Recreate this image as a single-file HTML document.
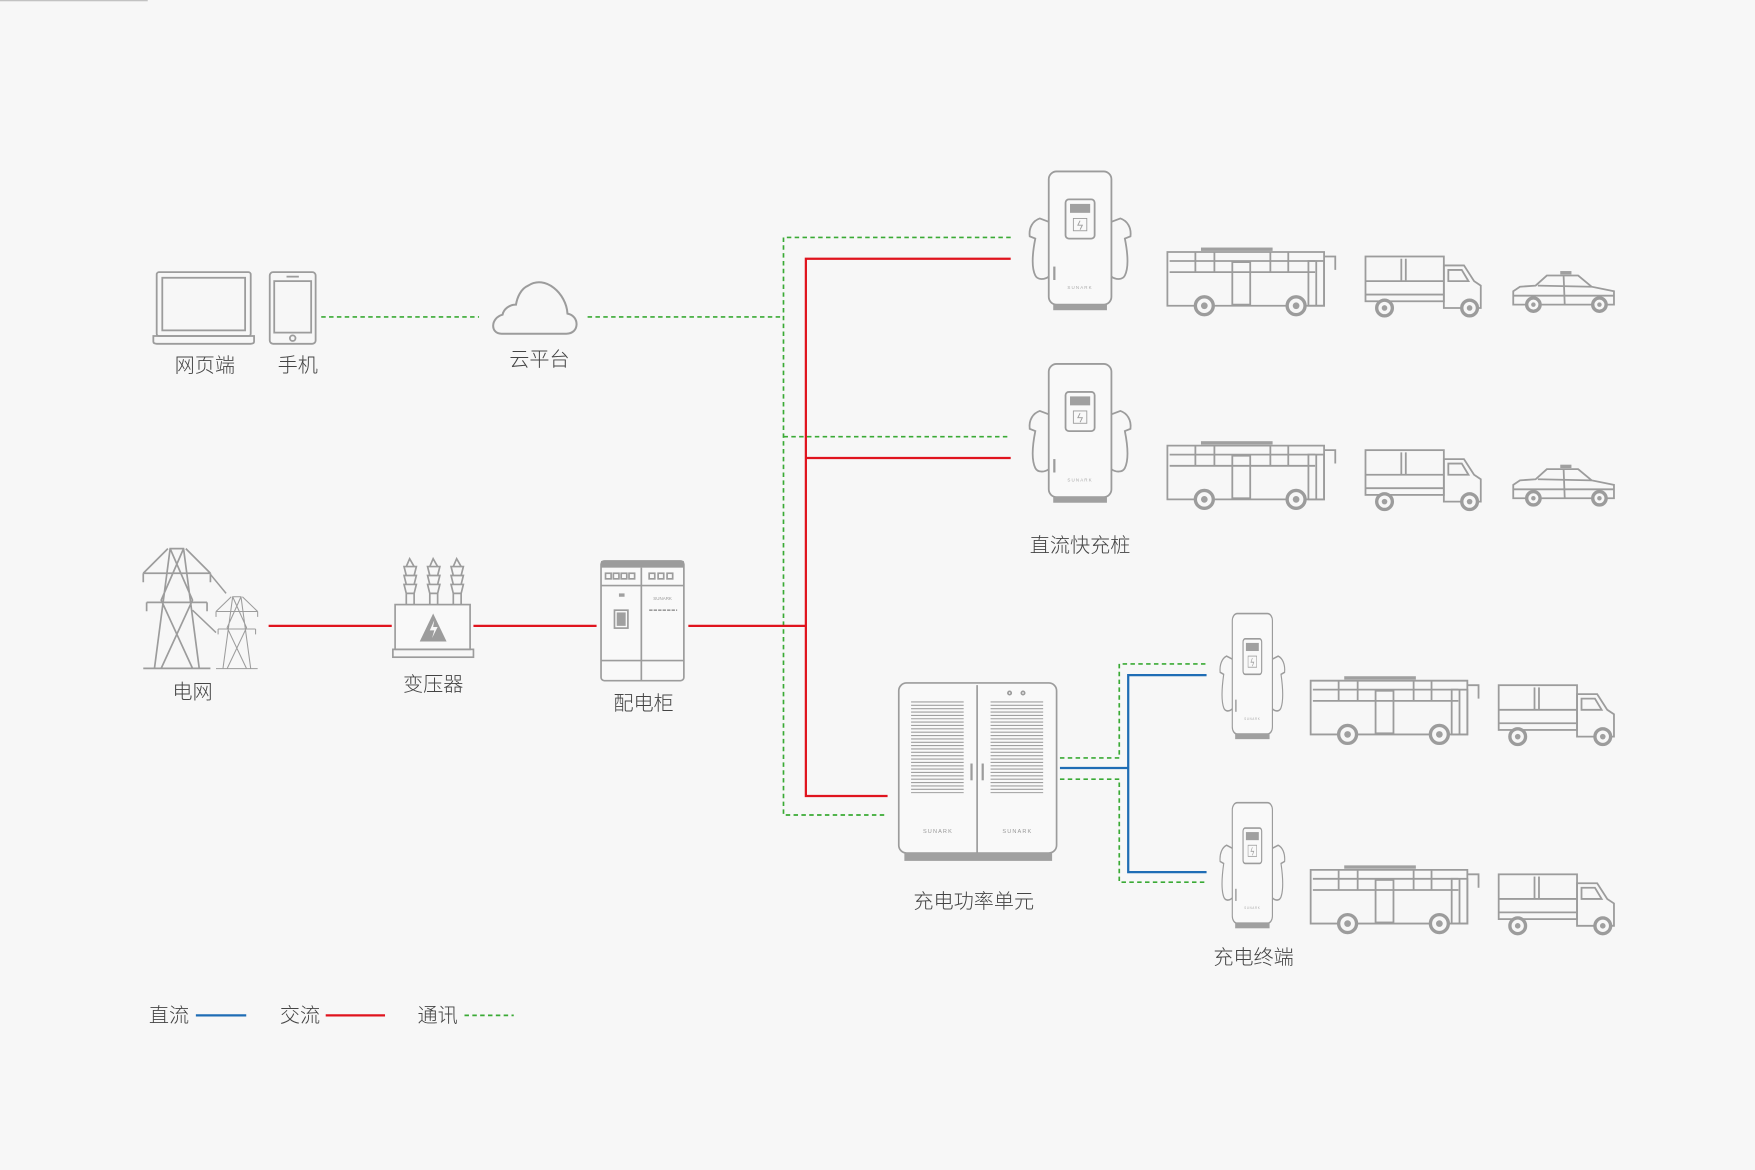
<!DOCTYPE html>
<html><head><meta charset="utf-8"><style>
html,body{margin:0;padding:0;background:#f7f7f7;}
svg{display:block}
text{font-family:"Liberation Sans","Noto Sans CJK SC",sans-serif;fill:#444;}
</style></head><body>
<svg width="1755" height="1170" viewBox="0 0 1568 1045" xmlns="http://www.w3.org/2000/svg">
<rect width="1568" height="1045" fill="#f7f7f7"/>
<line x1="0" y1="0.5" x2="132" y2="0.5" stroke="#bbb" stroke-width="1"/>
<defs>
<g id="charger" fill="none" stroke="#9c9c9c" stroke-width="1.6">
  <rect x="0" y="0" width="56" height="119" rx="7" fill="#f9f9f9"/>
  <rect x="15" y="25" width="26" height="35" rx="3"/>
  <rect x="19" y="29" width="18" height="8" fill="#a0a0a0" stroke="none"/>
  <rect x="22" y="42" width="12" height="11" stroke-width="0.8"/>
  <path d="M28,44 L26,48 H30 L28,52" stroke-width="0.8"/>
  <line x1="5" y1="85" x2="5" y2="97" stroke-width="2"/>
  <path d="M0,45 L-8,42 C-14,44 -18,50 -17,58 L-12,60 C-14,70 -16,85 -12,93 C-10,97 -4,97 0,94"/>
  <path d="M56,45 L64,42 C70,44 74,50 73,58 L68,60 C70,70 72,85 68,93 C66,97 60,97 56,94"/>
  <rect x="4" y="119" width="48" height="5" fill="#a0a0a0" stroke="none"/>
  <text x="28" y="105" font-size="4" text-anchor="middle" letter-spacing="1" stroke="none" style="fill:#aaa;font-weight:100">SUNARK</text>
</g>
<g id="bus" fill="none" stroke="#9c9c9c" stroke-width="1.6">
  <rect x="30" y="0" width="64" height="3" fill="#a0a0a0" stroke="none"/>
  <path d="M2,4 H140 V52 H0 V4 Z"/>
  <line x1="2" y1="12" x2="132" y2="12"/><line x1="2" y1="22" x2="132" y2="22"/>
  <line x1="25" y1="4" x2="25" y2="22"/><line x1="42" y1="4" x2="42" y2="22"/>
  <line x1="92" y1="4" x2="92" y2="22"/><line x1="108" y1="4" x2="108" y2="22"/>
  <rect x="58" y="13" width="16" height="38"/>
  <rect x="126" y="12" width="14" height="40"/><line x1="133" y1="12" x2="133" y2="52"/>
  <path d="M140,8 H150 V20"/>
  <circle cx="33" cy="52" r="8" fill="#f7f7f7" stroke-width="3"/><circle cx="33" cy="52" r="3" fill="#a0a0a0" stroke="none"/>
  <circle cx="115" cy="52" r="8" fill="#f7f7f7" stroke-width="3"/><circle cx="115" cy="52" r="3" fill="#a0a0a0" stroke="none"/>
</g>
<g id="truck" fill="none" stroke="#9c9c9c" stroke-width="1.6">
  <rect x="0" y="0" width="70" height="40"/>
  <line x1="0" y1="22" x2="70" y2="22"/><line x1="0" y1="34" x2="70" y2="34"/>
  <line x1="32" y1="2" x2="32" y2="22"/><line x1="36" y1="2" x2="36" y2="22"/>
  <path d="M70,8 H88 L97,22 L103,26 V46 H70 Z"/>
  <path d="M74,12 H86 L92,22 H74 Z"/>
  <circle cx="17" cy="46" r="7" fill="#f7f7f7" stroke-width="3"/><circle cx="17" cy="46" r="2.5" fill="#a0a0a0" stroke="none"/>
  <circle cx="93" cy="46" r="7" fill="#f7f7f7" stroke-width="3"/><circle cx="93" cy="46" r="2.5" fill="#a0a0a0" stroke="none"/>
</g>
<g id="car" fill="none" stroke="#9c9c9c" stroke-width="1.6">
  <rect x="44" y="0" width="10" height="3" fill="#a0a0a0" stroke="none"/>
  <path d="M2,18 L8,14 L22,13 L32,4 H60 L72,14 L92,18 V30 H2 Z"/>
  <line x1="24" y1="13" x2="72" y2="14"/><line x1="47" y1="4" x2="48" y2="30"/>
  <line x1="2" y1="22" x2="92" y2="22"/>
  <circle cx="20" cy="30" r="6" fill="#f7f7f7" stroke-width="3"/><circle cx="20" cy="30" r="2" fill="#a0a0a0" stroke="none"/>
  <circle cx="79" cy="30" r="6" fill="#f7f7f7" stroke-width="3"/><circle cx="79" cy="30" r="2" fill="#a0a0a0" stroke="none"/>
</g>
<g id="tower" fill="none" stroke="#9c9c9c" stroke-width="1.5">
  <path d="M0,107 H60 M10,107 L24,0 H36 L50,107 M24,0 L44,46 L16,107 M36,0 L16,46 L44,107 M0,22 L22,0 M60,22 L38,0 M0,22 H60 M0,22 V30 M60,22 V30 M3,48 H57 M3,48 V56 M57,48 V56"/>
</g>
</defs>

<g fill="none" stroke-width="1.5">
  <g stroke="#3aaa35" stroke-dasharray="4,3">
    <line x1="287" y1="283" x2="428" y2="283"/>
    <line x1="525" y1="283" x2="700" y2="283"/>
    <polyline points="903,212 700,212 700,728 793,728"/>
    <line x1="700" y1="390" x2="903" y2="390"/>
    <polyline points="947,677 1000,677 1000,593 1078,593"/>
    <polyline points="947,696 1000,696 1000,788 1078,788"/>
    <line x1="415" y1="907" x2="459" y2="907"/>
  </g>
  <g stroke="#e0141e" stroke-width="2">
    <polyline points="903,231 720,231 720,711 793,711"/>
    <line x1="720" y1="409" x2="903" y2="409"/>
    <line x1="615" y1="559" x2="720" y2="559"/>
    <line x1="240" y1="559" x2="350" y2="559"/>
    <line x1="423" y1="559" x2="533" y2="559"/>
    <line x1="291" y1="907" x2="344" y2="907"/>
  </g>
  <g stroke="#1f6db5" stroke-width="2">
    <line x1="947" y1="686" x2="1008" y2="686"/>
    <polyline points="1078,603 1008,603 1008,779 1078,779"/>
    <line x1="175" y1="907" x2="220" y2="907"/>
  </g>
</g>

<g fill="none" stroke="#9c9c9c" stroke-width="1.6">
  <rect x="140" y="243" width="84" height="57" rx="2"/>
  <rect x="145" y="248" width="74" height="47"/>
  <path d="M137,300 H227 V305 Q227,307 224,307 H140 Q137,307 137,305 Z"/>
  <rect x="241" y="243" width="41" height="64" rx="3"/>
  <rect x="245" y="251" width="33" height="46"/>
  <line x1="256" y1="247" x2="267" y2="247"/>
  <circle cx="261.5" cy="302" r="2.5"/>
  <path d="M448,298 H506 C518,298 518,282 507,280 C506,262 487,245 472,255 C465,258 462,266 461,272 C455,272 450,276 449,281 C438,284 438,298 448,298 Z" stroke-width="1.8"/>
</g>

<use href="#tower" transform="translate(128,490)"/>
<use href="#tower" transform="translate(193,533) scale(0.62,0.6)"/>
<line x1="188" y1="513" x2="202" y2="530" stroke="#9c9c9c" stroke-width="1.3"/>
<line x1="172" y1="545" x2="193" y2="565" stroke="#9c9c9c" stroke-width="1.3"/>

<g fill="none" stroke="#9c9c9c" stroke-width="1.5">
  <g id="ins"><path d="M366,499 L363,506 H370 Z M361,506 H372 L370,514 H363 Z M361,514 H372 L370,522 H363 Z M361,522 H372 L370,530 H363 Z M363,530 V540 M370,530 V540"/></g>
  <use href="#ins" transform="translate(21,0)"/>
  <use href="#ins" transform="translate(42,0)"/>
  <rect x="353" y="540" width="67" height="40" fill="#f9f9f9"/>
  <rect x="351" y="580" width="72" height="7"/>
</g>
<path d="M387,548 L399,573 H375 Z" fill="#9c9c9c"/>
<path d="M388,554 L384,563 H388 L386,570 L391,560 H387 Z" fill="#f7f7f7"/>

<g fill="none" stroke="#9c9c9c" stroke-width="1.5">
  <rect x="537" y="501" width="74" height="107" rx="3" fill="#f9f9f9"/>
  <rect x="537" y="501" width="74" height="6" fill="#9c9c9c" stroke="none"/>
  <line x1="573" y1="507" x2="573" y2="608"/>
  <line x1="537" y1="523" x2="611" y2="523"/><line x1="537" y1="590" x2="611" y2="590"/>
  <rect x="541" y="512" width="5" height="5"/><rect x="548" y="512" width="5" height="5"/><rect x="555" y="512" width="5" height="5"/><rect x="562" y="512" width="5" height="5"/>
  <rect x="580" y="512" width="5" height="5"/><rect x="588" y="512" width="5" height="5"/><rect x="596" y="512" width="5" height="5"/>
  <rect x="549" y="545" width="12" height="16"/>
  <line x1="580" y1="545" x2="605" y2="545" stroke-dasharray="3,1"/>
</g>
<rect x="551" y="547" width="8" height="12" fill="#a0a0a0"/>
<rect x="553" y="530" width="5" height="3" fill="#a0a0a0"/>
<text x="592" y="536" font-size="4" text-anchor="middle" style="fill:#999">SUNARK</text>

<use href="#charger" transform="translate(937,153)"/>
<use href="#charger" transform="translate(937,325)"/>
<use href="#charger" transform="translate(1101,548) scale(0.64,0.905)"/>
<use href="#charger" transform="translate(1101,717) scale(0.64,0.905)"/>

<use href="#bus" transform="translate(1043,221)"/>
<use href="#bus" transform="translate(1043,394)"/>
<use href="#bus" transform="translate(1171,604)"/>
<use href="#bus" transform="translate(1171,773)"/>
<use href="#truck" transform="translate(1220,229)"/>
<use href="#truck" transform="translate(1220,402)"/>
<use href="#truck" transform="translate(1339,612)"/>
<use href="#truck" transform="translate(1339,781)"/>
<use href="#car" transform="translate(1350,242)"/>
<use href="#car" transform="translate(1350,415)"/>

<g fill="none" stroke="#9c9c9c" stroke-width="1.5">
  <rect x="803" y="610" width="141" height="152" rx="7" fill="#f9f9f9"/>
  <line x1="873" y1="612" x2="873" y2="762"/>
  <rect x="808" y="762" width="132" height="7" fill="#a0a0a0" stroke="none"/>
  <line x1="868" y1="682" x2="868" y2="697" stroke-width="2"/>
  <line x1="878" y1="682" x2="878" y2="697" stroke-width="2"/>
  <circle cx="902" cy="619" r="1.5"/><circle cx="914" cy="619" r="1.5"/>
</g>
<g stroke="#a0a0a0" stroke-width="1">
  <path id="vents" d="M814,627H861M814,630H861M814,633H861M814,636H861M814,639H861M814,642H861M814,645H861M814,648H861M814,651H861M814,654H861M814,657H861M814,660H861M814,663H861M814,666H861M814,669H861M814,672H861M814,675H861M814,678H861M814,681H861M814,684H861M814,687H861M814,690H861M814,693H861M814,696H861M814,699H861M814,702H861M814,705H861M814,708H861"/>
  <use href="#vents" transform="translate(71,0)"/>
</g>
<text x="838" y="744" font-size="5" text-anchor="middle" letter-spacing="1" style="fill:#999">SUNARK</text>
<text x="909" y="744" font-size="5" text-anchor="middle" letter-spacing="1" style="fill:#999">SUNARK</text>

<g font-size="18" text-anchor="middle" style="font-weight:300">
  <text x="183" y="332">网页端</text>
  <text x="266" y="332">手机</text>
  <text x="482" y="327">云平台</text>
  <text x="172" y="624">电网</text>
  <text x="387" y="617">变压器</text>
  <text x="575" y="634">配电柜</text>
  <text x="965" y="493">直流快充桩</text>
  <text x="870" y="811">充电功率单元</text>
  <text x="1120" y="861">充电终端</text>
  <text x="151" y="913">直流</text>
  <text x="268" y="913">交流</text>
  <text x="391" y="913">通讯</text>
</g>
</svg>
</body></html>
